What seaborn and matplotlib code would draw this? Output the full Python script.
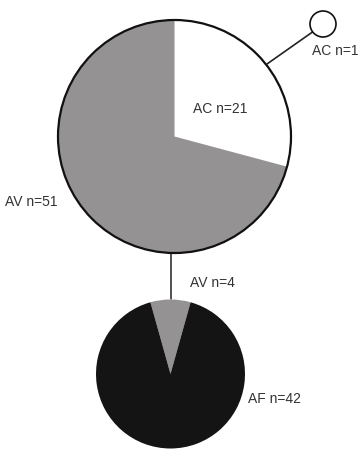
import matplotlib
matplotlib.use("Agg")
import matplotlib.pyplot as plt
import seaborn as sns
from matplotlib.patches import Circle

# ---- data ----
top_labels = ["AC", "AV"]
top_counts = [21, 51]
bottom_labels = ["AV", "AF"]
bottom_counts = [4, 42]
small_label = "AC"
small_count = 1

sns.set_theme(style="white")
plt.rcParams['font.family'] = ['Liberation Sans', 'DejaVu Sans']

W, H = 362, 451
fig = plt.figure(figsize=(W / 100, H / 100), dpi=100)
ax = fig.add_axes([0, 0, 1, 1])
ax.set_xlim(0, W)
ax.set_ylim(0, H)
ax.set_aspect('equal')
ax.axis('off')

def Y(py):
    return H - py

col = {"AC": "#ffffff", "AV": "#959293", "AF": "#141414"}

# layout (pixel coordinates)
big_c, big_r = (174.5, 136.5), 116.5
bot_c, bot_r = (170.5, 374), 74.5
sm_c, sm_r = (323, 24), 13

# connector lines
ax.plot([171, 171], [Y(250), Y(299)], color="#222222", lw=1.1, zorder=1)
ax.plot([267, 312.5], [Y(64), Y(32)], color="#222222", lw=1.2, zorder=1)

# big pie
ax.pie(top_counts, colors=[col[l] for l in top_labels], startangle=90,
       counterclock=False, center=(big_c[0], Y(big_c[1])), radius=big_r,
       wedgeprops=dict(linewidth=0), frame=True)
ax.add_patch(Circle((big_c[0], Y(big_c[1])), big_r, fill=False,
                    edgecolor="#111111", lw=1.6, zorder=3))

# bottom pie
frac = bottom_counts[0] / sum(bottom_counts)
ax.pie(bottom_counts, colors=[col[l] for l in bottom_labels],
       startangle=90 + 180 * frac, counterclock=False,
       center=(bot_c[0], Y(bot_c[1])), radius=bot_r,
       wedgeprops=dict(linewidth=0), frame=True)

# small node
ax.add_patch(Circle((sm_c[0], Y(sm_c[1])), sm_r, facecolor="white",
                    edgecolor="#111111", lw=1.2, zorder=3))

ax.set_xlim(0, W)
ax.set_ylim(0, H)
ax.set_aspect('equal')
ax.axis('off')

tc = "#333333"
fs = 10
ax.text(312, Y(55), f"{small_label} n={small_count}", color=tc, fontsize=fs, va='baseline', ha='left')
ax.text(193, Y(113), f"{top_labels[0]} n={top_counts[0]}", color=tc, fontsize=fs, va='baseline', ha='left')
ax.text(5, Y(206), f"{top_labels[1]} n={top_counts[1]}", color=tc, fontsize=fs, va='baseline', ha='left')
ax.text(190, Y(287), f"{bottom_labels[0]} n={bottom_counts[0]}", color=tc, fontsize=fs, va='baseline', ha='left')
ax.text(248, Y(403), f"{bottom_labels[1]} n={bottom_counts[1]}", color=tc, fontsize=fs, va='baseline', ha='left')

fig.savefig("out.png", dpi=100, facecolor="white")
